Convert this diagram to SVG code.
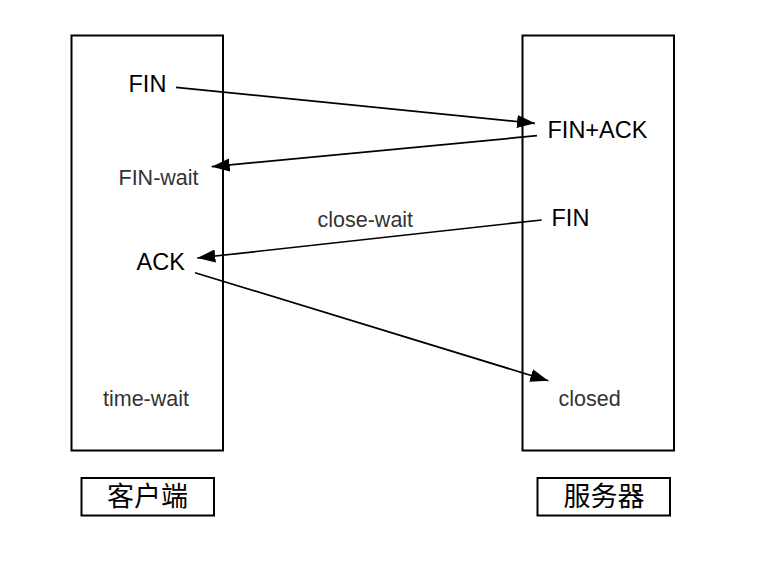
<svg xmlns="http://www.w3.org/2000/svg" width="760" height="566" viewBox="0 0 760 566">
<style>
.box{fill:#fff;stroke:#000;stroke-width:2}
.lbl{fill:none;stroke:#000;stroke-width:2}
.msg{font-family:"Liberation Sans",Arial,sans-serif;font-size:23.5px;fill:#000}
.st{font-family:"Liberation Sans",Arial,sans-serif;font-size:21.5px;fill:#333}
.cjk{font-family:"Liberation Sans","Noto Sans CJK SC",sans-serif;font-size:27px;fill:#000;text-anchor:middle}
.arr{fill:none;stroke:#000;stroke-width:1.7;marker-end:url(#ah)}
</style>
<defs>
<marker id="ah" markerUnits="userSpaceOnUse" markerWidth="20" markerHeight="14" refX="18" refY="6.5" orient="auto" viewBox="0 0 20 14">
<path d="M0,0 L18,6.5 L0,13 Z" fill="#000"/>
</marker>
</defs>
<rect width="760" height="566" fill="#fff"/>
<g id="client">
<rect class="box" x="71.5" y="35.5" width="151.5" height="415"/>
<text class="msg" x="128.5" y="92">FIN</text>
<text class="st" x="118.5" y="185">FIN-wait</text>
<text class="msg" x="136.5" y="269.5">ACK</text>
<text class="st" x="103" y="406">time-wait</text>
</g>
<g id="server">
<rect class="box" x="522.5" y="35.5" width="151.5" height="415"/>
<text class="msg" x="547.5" y="138">FIN+ACK</text>
<text class="msg" x="551.5" y="226">FIN</text>
<text class="st" x="558.5" y="406">closed</text>
</g>
<g id="client-label">
<rect class="lbl" x="81.5" y="478" width="132.5" height="37.5"/>
<text class="cjk" x="147.5" y="506">客户端</text>
</g>
<g id="server-label">
<rect class="lbl" x="537.5" y="478" width="132.5" height="37.5"/>
<text class="cjk" x="604" y="506">服务器</text>
</g>
<text class="st" x="317.5" y="226.5">close-wait</text>
<g id="connectors">
<path class="arr" d="M176,87.3 L535,123.3"/>
<path class="arr" d="M537,135.7 L211.7,166.7"/>
<path class="arr" d="M541.7,220 L197.3,258"/>
<path class="arr" d="M195,272.7 L548.3,380.7"/>
</g>
</svg>
